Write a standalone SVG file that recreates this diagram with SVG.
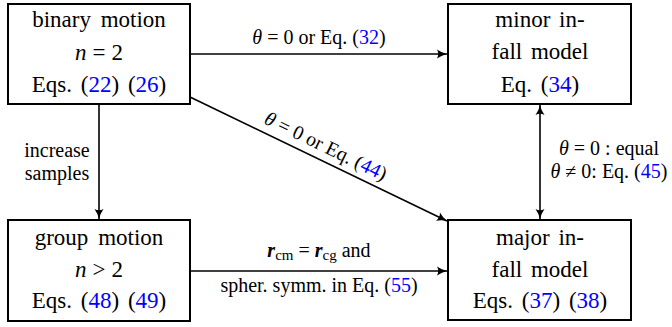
<svg xmlns="http://www.w3.org/2000/svg" width="672" height="327" viewBox="0 0 672 327">
<defs>
<marker id="ah" markerWidth="14" markerHeight="12" refX="11" refY="6" orient="auto-start-reverse" markerUnits="userSpaceOnUse">
<path d="M1,1.5 Q6,5 11,6 Q6,7 1,10.5 Q3.5,6 1,1.5 Z" fill="#000"/>
</marker>
</defs>
<g id="connectors" fill="none" stroke="#000" stroke-width="1.6">
<line x1="190" y1="54" x2="447" y2="54" marker-end="url(#ah)"/>
<line x1="190" y1="97" x2="447" y2="221" marker-end="url(#ah)"/>
<line x1="99" y1="104" x2="99" y2="219" marker-end="url(#ah)"/>
<line x1="540" y1="105" x2="540" y2="219" marker-start="url(#ah)" marker-end="url(#ah)"/>
<line x1="190" y1="271" x2="447" y2="271" marker-end="url(#ah)"/>
</g>
<g id="labels" font-size="20" text-anchor="middle" fill="#000">
<text font-family="Liberation Serif" x="319" y="44"><tspan font-style="italic">θ</tspan> = 0 or Eq. (<tspan fill="#0000ff">32</tspan>)</text>
<text font-family="Liberation Serif" transform="translate(323,152) rotate(25.8)"><tspan font-style="italic">θ</tspan> = 0 or Eq. (<tspan fill="#0000ff">44</tspan>)</text>
<text font-family="Liberation Serif" x="57" y="157">increase</text>
<text font-family="Liberation Serif" x="57" y="180">samples</text>
<text font-family="Liberation Serif" x="609" y="155"><tspan font-style="italic">θ</tspan> = 0 : equal</text>
<text font-family="Liberation Serif" x="609" y="178"><tspan font-style="italic">θ</tspan> ≠ 0: Eq. (<tspan fill="#0000ff">45</tspan>)</text>
<text font-family="Liberation Serif" x="319" y="257"><tspan font-weight="bold" font-style="italic">r</tspan><tspan font-size="15" dy="3">cm</tspan><tspan dy="-3"> = </tspan><tspan font-weight="bold" font-style="italic">r</tspan><tspan font-size="15" dy="3">cg</tspan><tspan dy="-3"> and</tspan></text>
<text font-family="Liberation Serif" x="319" y="292">spher. symm. in Eq. (<tspan fill="#0000ff">55</tspan>)</text>
</g>
<g id="binary" font-size="23" text-anchor="middle">
<rect x="8" y="4" width="182" height="100" fill="#fff" stroke="#000" stroke-width="2"/>
<text font-family="Liberation Serif" x="99" y="27">binary <tspan dx="4">motion</tspan></text>
<text font-family="Liberation Serif" x="99" y="60"><tspan font-style="italic">n</tspan><tspan dx="6">=</tspan><tspan dx="6">2</tspan></text>
<text font-family="Liberation Serif" x="99" y="92">Eqs. <tspan dx="3">(</tspan><tspan fill="#0000ff">22</tspan>) <tspan dx="3">(</tspan><tspan fill="#0000ff">26</tspan>)</text>
</g>
<g id="minor" font-size="23" text-anchor="middle">
<rect x="448" y="4" width="183" height="100" fill="#fff" stroke="#000" stroke-width="2"/>
<text font-family="Liberation Serif" x="540" y="27">minor <tspan dx="3">in-</tspan></text>
<text font-family="Liberation Serif" x="540" y="59">fall <tspan dx="3">model</tspan></text>
<text font-family="Liberation Serif" x="540" y="92">Eq. <tspan dx="3">(</tspan><tspan fill="#0000ff">34</tspan>)</text>
</g>
<g id="group" font-size="23" text-anchor="middle">
<rect x="8" y="220" width="182" height="101" fill="#fff" stroke="#000" stroke-width="2"/>
<text font-family="Liberation Serif" x="99" y="245">group <tspan dx="4">motion</tspan></text>
<text font-family="Liberation Serif" x="99" y="277"><tspan font-style="italic">n</tspan><tspan dx="6">&gt;</tspan><tspan dx="6">2</tspan></text>
<text font-family="Liberation Serif" x="99" y="308">Eqs. <tspan dx="3">(</tspan><tspan fill="#0000ff">48</tspan>) <tspan dx="3">(</tspan><tspan fill="#0000ff">49</tspan>)</text>
</g>
<g id="major" font-size="23" text-anchor="middle">
<rect x="448" y="220" width="183" height="100" fill="#fff" stroke="#000" stroke-width="2"/>
<text font-family="Liberation Serif" x="540" y="245">major <tspan dx="3">in-</tspan></text>
<text font-family="Liberation Serif" x="540" y="277">fall <tspan dx="3">model</tspan></text>
<text font-family="Liberation Serif" x="540" y="308">Eqs. <tspan dx="3">(</tspan><tspan fill="#0000ff">37</tspan>) <tspan dx="3">(</tspan><tspan fill="#0000ff">38</tspan>)</text>
</g>
</svg>
